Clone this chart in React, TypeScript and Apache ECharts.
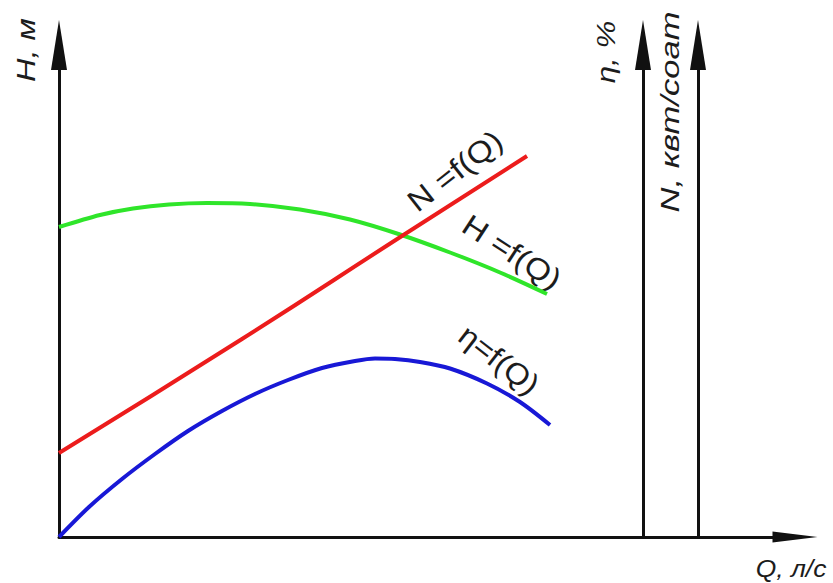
import React, { useEffect, useRef } from "react";
import * as echarts from "echarts";

// Q values (arbitrary units) and curve values
const qH = [0, 4.1, 7.4, 11.0, 14.8, 19.1, 24.1, 29.1, 34.1, 39.1, 44.1, 48.8];
const hValues = [31.0, 32.2, 32.85, 33.25, 33.4, 33.3, 32.75, 31.75, 30.25, 28.45, 26.45, 24.3];

const qN = [0, 18.3, 34.6, 46.8];
const nValues = [8.4, 19.8, 30.3, 38.1];

const qEta = [0, 3.0, 6.3, 9.6, 12.9, 16.3, 19.6, 22.9, 26.3, 29.6, 31.6, 33.6, 36.1, 39.1, 42.8, 46.1, 49.1];
const etaValues = [0, 3.0, 5.8, 8.3, 10.6, 12.6, 14.3, 15.7, 16.9, 17.6, 17.85, 17.8, 17.5, 16.85, 15.35, 13.5, 11.2];

const axisTitles = ["H, м", "η, %", "N, квт/соат", "Q, л/с"];
const curveTitles = ["N =f(Q)", "H =f(Q)", "η=f(Q)"];

const zip = (xs: number[], ys: number[]) => xs.map((x, i) => [x, ys[i]]);

export default function App() {
  const ref = useRef<HTMLDivElement>(null);
  useEffect(() => {
    if (!ref.current) return;
    const chart = echarts.init(ref.current, undefined, { renderer: "svg" });
    const axisLine = (show: boolean) => ({
      show,
      onZero: false,
      symbol: ["none", "triangle"],
      symbolSize: [16, 50],
      lineStyle: { color: "#111", width: 3 },
    });
    const baseY = {
      type: "value" as const,
      min: 0,
      max: 49.2,
      axisTick: { show: false },
      axisLabel: { show: false },
      splitLine: { show: false },
    };
    const font = "'Liberation Sans', Arial, sans-serif";
    const txt = (
      text: string,
      x: number,
      y: number,
      rot: number,
      size: number,
      sx: number,
      italic: boolean
    ) => ({
      type: "text",
      x,
      y,
      rotation: (rot * Math.PI) / 180,
      scaleX: sx,
      style: {
        text,
        fill: "#1c1c1c",
        font: `${italic ? "italic " : ""}${size}px ${font}`,
        align: "center",
        verticalAlign: "middle",
      },
    });
    chart.setOption({
      animation: false,
      backgroundColor: "#fff",
      grid: { left: 59, top: 45, width: 736, height: 492 },
      xAxis: {
        type: "value",
        min: 0,
        max: 73.6,
        axisLine: {
          show: true,
          onZero: false,
          symbol: ["none", "triangle"],
          symbolSize: [11, 45],
          lineStyle: { color: "#111", width: 3 },
        },
        axisTick: { show: false },
        axisLabel: { show: false },
        splitLine: { show: false },
      },
      yAxis: [
        { ...baseY, position: "left", offset: 0, axisLine: axisLine(true) },
        { ...baseY, position: "left", offset: -584, axisLine: axisLine(true) },
        { ...baseY, position: "left", offset: -639, axisLine: axisLine(true) },
      ],
      series: [
        {
          type: "line",
          data: zip(qH, hValues),
          smooth: 0.3,
          showSymbol: false,
          lineStyle: { color: "#2fe52a", width: 4 },
        },
        {
          type: "line",
          data: zip(qN, nValues),
          smooth: true,
          showSymbol: false,
          lineStyle: { color: "#ec1c1c", width: 4 },
        },
        {
          type: "line",
          data: zip(qEta, etaValues),
          smooth: 0.3,
          showSymbol: false,
          lineStyle: { color: "#1818d6", width: 4 },
        },
      ],
      graphic: [
        txt(axisTitles[0], 26, 50, 90, 25, 1.3, true),
        txt(axisTitles[1], 606, 52, 90, 25, 1.25, true),
        txt(axisTitles[2], 670, 112, 90, 26, 1.33, true),
        txt(axisTitles[3], 791, 569, 0, 23, 1.15, true),
        txt(curveTitles[0], 455, 171, 38, 30, 1.12, false),
        txt(curveTitles[1], 512, 252, -33, 30, 1.12, false),
        txt(curveTitles[2], 499, 360, -38, 30, 1.08, false),
      ],
    });
    return () => chart.dispose();
  }, []);
  return (
    <div
      ref={ref}
      style={{ position: "fixed", left: 0, top: 0, width: 833, height: 583 }}
    />
  );
}
